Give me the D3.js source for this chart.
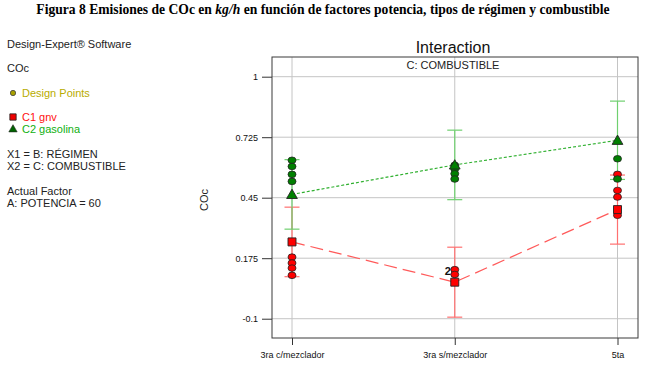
<!DOCTYPE html>
<html>
<head>
<meta charset="utf-8">
<script src="https://cdn.jsdelivr.net/npm/d3@7"></script>
<style>
    body { margin: 0; background: #fff; }
    svg { display: block; font-family: "Liberation Sans", Arial, sans-serif; }
</style>
</head>
<body>
<svg id="viz" width="646" height="370"></svg>
<script>
var categories = ["3ra c/mezclador", "3ra s/mezclador", "5ta"]
var yTicks = [-0.1, 0.175, 0.45, 0.725, 1]

// C1 gnv
var gnvMeans = [0.249, 0.066, 0.396]
var gnvLsd = [0.158, 0.159, 0.157]
var gnvPoints = [[0.180, 0.153, 0.130, 0.097], [0.123, 0.101], [0.556, 0.483, 0.453, 0.370]]
var gnvCounts = [[1, 1, 1, 1], [2, 1], [1, 1, 1, 1]]

// C2 gasolina
var gasMeans = [0.465, 0.599, 0.711]
var gasLsd = [0.158, 0.158, 0.178]
var gasPoints = [[0.620, 0.592, 0.556, 0.524], [0.597, 0.580, 0.559, 0.535], [0.627, 0.535]]

var legendLines = [
    {text: "Design-Expert® Software", y: 44},
    {text: "COc", y: 68},
    {text: "X1 = B: RÉGIMEN", y: 154},
    {text: "X2 = C: COMBUSTIBLE", y: 166},
    {text: "Actual Factor", y: 191},
    {text: "A: POTENCIA = 60", y: 203}
]

var svg = d3.select("#viz")

var dimensions = {
    width: 646,
    height: 370,
    plot: {left: 272, right: 638, top: 57, bottom: 338}
}
var p = dimensions.plot

var xScale = d3.scalePoint()
               .domain(categories)
               .range([p.left + 20, p.right - 20.5])
var yScale = d3.scaleLinear()
               .domain([-0.1877, 1.0895])
               .range([p.bottom, p.top])

var series = [
    {name: "gnv", means: gnvMeans, lsd: gnvLsd, points: gnvPoints, counts: gnvCounts,
     line: "#ff5a5a", bar: "#ff7070", fill: "#ff0000", dash: "13,6", symbol: d3.symbolSquare, size: 64},
    {name: "gasolina", means: gasMeans, lsd: gasLsd, points: gasPoints, counts: null,
     line: "#30b030", bar: "#6fd06f", fill: "#008000", dash: "3,2", symbol: d3.symbolTriangle, size: 50}
]

// caption
svg.append("text")
   .attr("x", dimensions.width / 2)
   .attr("y", 14)
   .attr("text-anchor", "middle")
   .attr("font-family", "Liberation Serif, Times New Roman, serif")
   .attr("font-weight", "bold")
   .attr("font-size", 13.6)
   .call(t => {
       t.append("tspan").text("Figura 8 Emisiones de COc en ")
       t.append("tspan").attr("font-style", "italic").text("kg/h")
       t.append("tspan").text(" en función de factores potencia, tipos de régimen y combustible")
   })

// left side text
svg.append("g")
   .selectAll("text")
   .data(legendLines)
   .enter()
   .append("text")
   .attr("x", 7)
   .attr("y", d => d.y)
   .attr("dy", "0.35em")
   .attr("font-size", 11)
   .attr("fill", "#222")
   .text(d => d.text)

svg.append("path")
   .attr("d", d3.symbol(d3.symbolCircle, 22)())
   .attr("transform", "translate(13,93)")
   .attr("fill", "#a8a000")
   .attr("stroke", "#444")
   .attr("stroke-width", 0.8)
svg.append("text")
   .attr("x", 22).attr("y", 93).attr("dy", "0.35em")
   .attr("font-size", 11).attr("fill", "#b8ac00")
   .text("Design Points")

svg.append("path")
   .attr("d", d3.symbol(d3.symbolSquare, 40)())
   .attr("transform", "translate(13,117)")
   .attr("fill", "#ee0000").attr("stroke", "#222").attr("stroke-width", 0.8)
svg.append("text")
   .attr("x", 22).attr("y", 117).attr("dy", "0.35em")
   .attr("font-size", 11).attr("fill", "#ff1010")
   .text("C1 gnv")

svg.append("path")
   .attr("d", d3.symbol(d3.symbolTriangle, 30)())
   .attr("transform", "translate(13,129.5)")
   .attr("fill", "#006400").attr("stroke", "#222").attr("stroke-width", 0.6)
svg.append("text")
   .attr("x", 22).attr("y", 129).attr("dy", "0.35em")
   .attr("font-size", 11).attr("fill", "#10b010")
   .text("C2 gasolina")

// titles
svg.append("text")
   .attr("x", (p.left + p.right) / 2 - 2)
   .attr("y", 47).attr("dy", "0.35em")
   .attr("text-anchor", "middle")
   .attr("font-size", 16)
   .attr("fill", "#111")
   .text("Interaction")

// grid
svg.append("g")
   .selectAll("line")
   .data(yTicks)
   .enter()
   .append("line")
   .attr("x1", p.left).attr("x2", p.right)
   .attr("y1", d => yScale(d)).attr("y2", d => yScale(d))
   .attr("stroke", "#c4c4c4")
svg.append("g")
   .selectAll("line")
   .data(categories)
   .enter()
   .append("line")
   .attr("x1", d => xScale(d)).attr("x2", d => xScale(d))
   .attr("y1", p.top).attr("y2", p.bottom)
   .attr("stroke", "#c4c4c4")

svg.append("text")
   .attr("x", (p.left + p.right) / 2 - 2)
   .attr("y", 65).attr("dy", "0.35em")
   .attr("text-anchor", "middle")
   .attr("font-size", 11)
   .attr("fill", "#222")
   .text("C: COMBUSTIBLE")

// axes
var yAxisGen = d3.axisLeft(yScale).tickValues(yTicks).tickSize(10).tickPadding(4).tickFormat(d => d)
var yAxis = svg.append("g")
               .attr("transform", `translate(${p.left},0)`)
               .call(yAxisGen)
yAxis.select(".domain").remove()
yAxis.selectAll("line").attr("stroke", "#333")
yAxis.selectAll("text").attr("font-size", 9).attr("fill", "#111").attr("font-family", "Liberation Sans, Arial, sans-serif")

var xAxisGen = d3.axisBottom(xScale).tickSize(7).tickPadding(7)
var xAxis = svg.append("g")
               .attr("transform", `translate(0,${p.bottom})`)
               .call(xAxisGen)
xAxis.select(".domain").remove()
xAxis.selectAll("line").attr("stroke", "#333")
xAxis.selectAll("text").attr("font-size", 9).attr("fill", "#111").attr("font-family", "Liberation Sans, Arial, sans-serif")

svg.append("rect")
   .attr("x", p.left).attr("y", p.top)
   .attr("width", p.right - p.left).attr("height", p.bottom - p.top)
   .attr("fill", "none")
   .attr("stroke", "#3a3a3a")

svg.append("text")
   .attr("transform", "translate(204,200) rotate(-90)")
   .attr("text-anchor", "middle")
   .attr("dy", "0.35em")
   .attr("font-size", 11)
   .attr("fill", "#222")
   .text("COc")

// error bars
series.forEach(s => {
    var g = svg.append("g")
    categories.forEach((c, i) => {
        var x = xScale(c)
        var lo = yScale(s.means[i] - s.lsd[i])
        var hi = yScale(s.means[i] + s.lsd[i])
        g.append("line").attr("x1", x).attr("x2", x).attr("y1", lo).attr("y2", hi)
         .attr("stroke", s.bar).attr("stroke-width", 1.2)
        ;[lo, hi].forEach(yy => {
            g.append("line").attr("x1", x - 7.5).attr("x2", x + 7.5).attr("y1", yy).attr("y2", yy)
             .attr("stroke", s.bar).attr("stroke-width", 1.2)
        })
    })
})

// mean lines
var lineGen = d3.line()
                .x((d, i) => xScale(categories[i]))
                .y(d => yScale(d))
series.forEach(s => {
    svg.append("path")
       .datum(s.means)
       .attr("d", lineGen)
       .attr("fill", "none")
       .attr("stroke", s.line)
       .attr("stroke-width", 1.2)
       .attr("stroke-dasharray", s.dash)
})

// design points
series.forEach(s => {
    var g = svg.append("g")
    s.points.forEach((vals, i) => {
        vals.forEach((v, j) => {
            g.append("ellipse")
             .attr("cx", xScale(categories[i]))
             .attr("cy", yScale(v))
             .attr("rx", 4).attr("ry", 3.3)
             .attr("fill", s.fill)
             .attr("stroke", "#222")
             .attr("stroke-width", 0.8)
            if (s.counts && s.counts[i][j] > 1) {
                g.append("text")
                 .attr("x", xScale(categories[i]) - 4)
                 .attr("y", yScale(v) + 2)
                 .attr("dy", "0.35em")
                 .attr("text-anchor", "end")
                 .attr("font-size", 11)
                 .attr("font-weight", "bold")
                 .attr("fill", "#111")
                 .text(s.counts[i][j])
            }
        })
    })
})

// means
series.forEach(s => {
    svg.append("g")
       .selectAll("path")
       .data(s.means)
       .enter()
       .append("path")
       .attr("d", d3.symbol(s.symbol, s.size)())
       .attr("transform", (d, i) => `translate(${xScale(categories[i])},${yScale(d) + (s.name === "gasolina" ? 1 : 0)})`)
       .attr("fill", s.fill)
       .attr("stroke", "#222")
       .attr("stroke-width", 0.9)
})
</script>
</body>
</html>
